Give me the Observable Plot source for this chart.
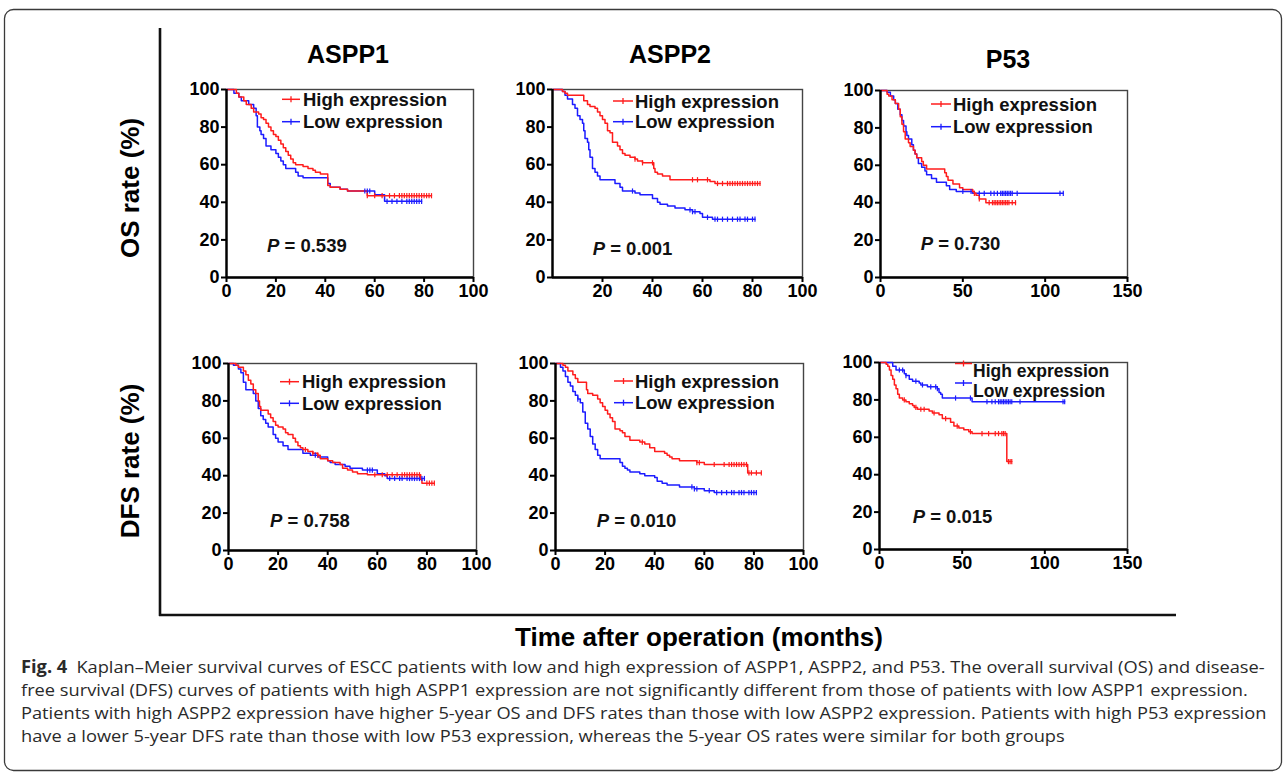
<!DOCTYPE html>
<html><head><meta charset="utf-8">
<script src="https://cdn.jsdelivr.net/npm/d3@7"></script>
<script src="https://cdn.jsdelivr.net/npm/@observablehq/plot@0.6"></script>
<style>
body{margin:0;background:#fff;}
#root{position:relative;width:1287px;height:773px;overflow:hidden;background:#fff;}
#root svg{position:absolute;}
</style></head><body><div id="root"></div>
<script>
// ---------- categories & labels ----------
const geneNames = ["ASPP1", "ASPP2", "P53"];
const rowLabels = ["OS rate (%)", "DFS rate (%)"];
const seriesNames = ["High expression", "Low expression"];
const pValues = ["0.539", "0.001", "0.730", "0.758", "0.010", "0.015"];
const yTicks = [0, 20, 40, 60, 80, 100];
const xTicks100 = [0, 20, 40, 60, 80, 100];
const xTicksAspp2Os = [20, 40, 60, 80, 100];
const xTicks150 = [0, 50, 100, 150];
const xAxisTitle = "Time after operation (months)";
const captionLines = [
  "Kaplan–Meier survival curves of ESCC patients with low and high expression of ASPP1, ASPP2, and P53. The overall survival (OS) and disease-",
  "free survival (DFS) curves of patients with high ASPP1 expression are not significantly different from those of patients with low ASPP1 expression.",
  "Patients with high ASPP2 expression have higher 5-year OS and DFS rates than those with low ASPP2 expression. Patients with high P53 expression",
  "have a lower 5-year DFS rate than those with low P53 expression, whereas the 5-year OS rates were similar for both groups"
];

// ---------- ASPP1 OS ----------
const aspp1OsHighTime = [0,4,5,7,8,10,11,13,14,15,16,17,18,19,20,21,22,23,24,25,26,27,28,31,33,35,36,38,41,42,46,49,57];
const aspp1OsHighRate = [100,98,96,94,92,90,88,87,85,84,82,80,78,76,75,73,71,69,67,65,63,61,60,59,58,57,56,55,49,48,47,46,43.5];
const aspp1OsHighCensor = [57,60,63,66,68,70,71,72,73,74,75,76,77,78,79,80,81,82,83];
const aspp1OsLowTime = [0,3,5,6,9,11,12,12.5,13.5,14,15,16,18,20,21,22,23,24,28,29,31,41,42,46,49,60,64];
const aspp1OsLowRate = [100,98,96,94,92,90,86,80,78,76,74,70,68,66,64,62,60,58,56,54,53,50,48,47,46,44,40.5];
const aspp1OsLowCensor = [56,57,58,65,67,69,71,73,74,75,76,77,78,79];
// ---------- ASPP2 OS ----------
const aspp2OsHighTime = [0,4,5,6,12.5,14,15,17,18,19,20,21,22,23,24,26,27,28,29,31,33,34,36,40.5,41,42,44,47,63,65];
const aspp2OsHighRate = [100,99,98,97,94,92,91,90,88,86,84,82,78,77,72,70,68,66,65,64,63,62,61,58,56,55,54,52,51,50];
const aspp2OsHighCensor = [33,36,40,56,58,62,66,68,70,71,72,73,74,75,76,77,78,79,80,81,82,83];
const aspp2OsLowTime = [0,4,5,6,8,9,10,11,12,12.5,13,14,14.5,15,16,17,18,19,25,27,28,33,35,40,42,43,46,49,53,56,59,60,64];
const aspp2OsLowRate = [100,99,97,95,92,90,86,84,82,78,74,72,68,64,58,56,54,52,50,48,46,45,44,42,40,39,38,37,36,35,34,32,31];
const aspp2OsLowCensor = [32,55,56,57,62,65,66,68,70,72,74,75,77,78,80,81];
// ---------- P53 OS ----------
const p53OsHighTime = [0,4,5,7,9,11,12,13,14,15,17,18,20,21,22,25,26,28,39,40,41,44,48,50,56,57,58,60,64];
const p53OsHighRate = [100,98,97,95,93,90,86,82,78,74,72,70,68,66,64,62,60,58,56,54,52,50,48,47,46,45,44,42,40];
const p53OsHighCensor = [57,60,66,68,69,70,71,72,73,74,75,76,77,78,80,82];
const p53OsLowTime = [0,4,6,8,9,10.5,12,13,14,15.5,16,17,19,20,21,22,23,25,27,28,31,34,40,42,46,56];
const p53OsLowRate = [100,99,97,95,93,90,87,84,81,78,76,74,71,68,66,64,61,59,57,55,53,51,49,47,46,45];
const p53OsLowCensor = [50,55,60,63,67,69,71,73,74,75,76,77,78,79,80,83,109,111];
// ---------- ASPP1 DFS ----------
const aspp1DfsHighTime = [0,3,4,6,7,8,9,10,11,12,12.5,13,16,17,18,19,20,22,23,24,26,27,28,29,30,32,34,36,37,40,42,45,46,48,50,52,56,77.5,78];
const aspp1DfsHighRate = [100,99,98,96,94,91,89,86,84,80,77,75,73,71,69,67,66,65,63,62,60,58,56,55,54,53,52,51,49,48,47,46,44,43,42,41,40.5,38,36];
const aspp1DfsHighCensor = [31,34,36,59,62,64,66,68,70,71,72,73,74,75,76,77,80,81,82,83];
const aspp1DfsLowTime = [0,2,4,5,6,7,10,11,12,13,14,15,16,18,19,20,22,24,30,33,36,40,41,43,47,49,54,60,63,64];
const aspp1DfsLowRate = [100,99,97,95,90,86,84,80,76,72,70,68,66,62,60,58,56,54,52,51,50,48,47,46,45,44,43,41,40,38.5];
const aspp1DfsLowCensor = [35,56,57,58,65,67,69,70,72,73,74,75,76,77,78,79];
// ---------- ASPP2 DFS ----------
const aspp2DfsHighTime = [0,3,4,5,7,8,9,12.5,13,15,17,18,19,20,21,22,23,24,26,27,28,30,34,36,38,40,44,45,46,47,50,57,60,77.5];
const aspp2DfsHighRate = [100,99,98,96,94,92,90,86,84,83,81,79,77,75,73,71,69,65,64,63,61,59,58,57,55,53,52,51,50,49,48,47,46,41.5];
const aspp2DfsHighCensor = [35,57,58,64,68,70,71,72,73,74,75,76,77,78,79,81,83];
const aspp2DfsLowTime = [0,2,3,4,5,6,7,8,9,10,11,12,13,14,15,16,17,18,26,27,28,29,30,34,36,40,41,43,45,50,56,60,64];
const aspp2DfsLowRate = [100,98,96,93,90,88,85,83,81,79,74,68,65,61,57,54,51,49,47,45,44,43,42,41,40,39,37,36,35,34,33,32,31];
const aspp2DfsLowCensor = [9,55,56,57,62,65,67,69,71,72,74,75,76,78,79,80,81];
// ---------- P53 DFS ----------
const p53DfsHighTime = [0,4,5,6,7,8,9,10,11,12,14,16,18,20,21,23,30,32,36,38,43,45,48,51,54,56,77];
const p53DfsHighRate = [100,99,98,96,93,91,88,86,83,81,80,79,78,77,76,75,74,73,72,70,68,66,65,64,63,62,47];
const p53DfsHighCensor = [15,22,25,27,33,40,47,55,62,66,70,72,74,75,76,78,79,80];
const p53DfsLowTime = [0,8,10,15,16,18,20,24,25,29,35,36,37,38,56];
const p53DfsLowRate = [100,98,96,94,93,91,90,89,88,87,86,84,83,81,79];
const p53DfsLowCensor = [12,14,16,22,26,31,34,35,46,55,65,68,70,72,73,74,75,76,77,78,79,80,85,111,112];

// ---------- helpers ----------
const RED = "#ff1c1c", BLUE = "#1c1cff";
const FONT = "'Liberation Sans', Arial, Helvetica, sans-serif";
function km(time, rate, censor) {
  const end = Math.max(time[time.length - 1], ...censor);
  const pts = time.map((t, i) => ({t, s: rate[i]}));
  pts.push({t: end, s: rate[rate.length - 1]});
  const at = (t) => { let v = rate[0]; for (let i = 0; i < time.length; i++) if (time[i] <= t) v = rate[i]; return v; };
  return {pts, cens: censor.map((t) => ({t, s: at(t)}))};
}
const tickSymbol = {draw(ctx, size) { const h = Math.sqrt(size / Math.PI); ctx.moveTo(0, -h); ctx.lineTo(0, h); }};

// layout of each panel: frame box [left, right, top, bottom]
const panels = [
  {box:[226,473,89,277], xMax:100, xTicks:xTicks100, high:km(aspp1OsHighTime,aspp1OsHighRate,aspp1OsHighCensor), low:km(aspp1OsLowTime,aspp1OsLowRate,aspp1OsLowCensor),
   p:pValues[0], pPos:[267,251.5], leg:{x1:282,x2:300,tx:303,fs:18.5,hi:[99.3,99.3],lo:[121.7,121.7]}},
  {box:[552,802,89,277], xMax:100, xTicks:xTicksAspp2Os, high:km(aspp2OsHighTime,aspp2OsHighRate,aspp2OsHighCensor), low:km(aspp2OsLowTime,aspp2OsLowRate,aspp2OsLowCensor),
   p:pValues[1], pPos:[592.7,254.5], leg:{x1:613,x2:633,tx:635,fs:18.5,hi:[101,101],lo:[121.7,121.7]}},
  {box:[880,1127,90,277], xMax:150, xTicks:xTicks150, high:km(p53OsHighTime,p53OsHighRate,p53OsHighCensor), low:km(p53OsLowTime,p53OsLowRate,p53OsLowCensor),
   p:pValues[2], pPos:[920.7,250], leg:{x1:931,x2:951,tx:953,fs:18.5,hi:[104,104],lo:[126.7,126.7]}},
  {box:[228,476,363,550], xMax:100, xTicks:xTicks100, high:km(aspp1DfsHighTime,aspp1DfsHighRate,aspp1DfsHighCensor), low:km(aspp1DfsLowTime,aspp1DfsLowRate,aspp1DfsLowCensor),
   p:pValues[3], pPos:[270,526.5], leg:{x1:280,x2:299,tx:302,fs:18.5,hi:[381.7,381.7],lo:[403.3,403.3]}},
  {box:[555,803,363,550], xMax:100, xTicks:xTicks100, high:km(aspp2DfsHighTime,aspp2DfsHighRate,aspp2DfsHighCensor), low:km(aspp2DfsLowTime,aspp2DfsLowRate,aspp2DfsLowCensor),
   p:pValues[4], pPos:[596.7,526.5], leg:{x1:614,x2:633,tx:635,fs:18.5,hi:[381,381],lo:[402.7,402.7]}},
  {box:[879,1127,362,549], xMax:150, xTicks:xTicks150, high:km(p53DfsHighTime,p53DfsHighRate,p53DfsHighCensor), low:km(p53DfsLowTime,p53DfsLowRate,p53DfsLowCensor),
   p:pValues[5], pPos:[912.7,522.7], leg:{x1:955,x2:972,tx:973,fs:17.5,hi:[363.5,370.5],lo:[383,390.5]}}
];

const root = document.getElementById("root");
const ML = 60, MR = 30, MT = 12, MB = 34;

for (const P of panels) {
  const [l, r, t, b] = P.box;
  const chart = Plot.plot({
    width: r - l + ML + MR, height: b - t + MT + MB,
    marginLeft: ML, marginRight: MR, marginTop: MT, marginBottom: MB,
    x: {domain: [0, P.xMax]}, y: {domain: [0, 100]},
    style: {fontFamily: FONT, fontSize: "18px", fontWeight: "bold", color: "black", background: "transparent", overflow: "visible"},
    marks: [
      Plot.frame({stroke: "#444", strokeWidth: 1.4}),
      Plot.line(P.low.pts, {x: "t", y: "s", curve: "step-after", stroke: BLUE, strokeWidth: 1.5}),
      Plot.line(P.high.pts, {x: "t", y: "s", curve: "step-after", stroke: RED, strokeWidth: 1.5}),
      Plot.dot(P.low.cens, {x: "t", y: "s", symbol: tickSymbol, r: 2.6, stroke: BLUE, fill: "none", strokeWidth: 1.2}),
      Plot.dot(P.high.cens, {x: "t", y: "s", symbol: tickSymbol, r: 2.6, stroke: RED, fill: "none", strokeWidth: 1.2}),
      Plot.ruleX([0], {stroke: "black", strokeWidth: 2.4}),
      Plot.ruleY([0], {stroke: "black", strokeWidth: 2.4}),
      Plot.axisX({ticks: P.xTicks, tickSize: 5, tickPadding: 2, strokeWidth: 2, label: null, tickFormat: (d) => String(d)}),
      Plot.axisY({ticks: yTicks, tickSize: 5, tickPadding: 2, strokeWidth: 2, label: null, tickFormat: (d) => String(d)})
    ]
  });
  chart.style.left = (l - ML) + "px";
  chart.style.top = (t - MT) + "px";
  root.appendChild(chart);
}

// ---------- overlay: frame, titles, legends, p-values, caption ----------
const svg = d3.select(root).append("svg")
  .attr("width", 1287).attr("height", 773)
  .style("left", "0px").style("top", "0px").style("pointer-events", "none");

svg.append("rect").attr("x", 4.5).attr("y", 9.5).attr("width", 1277).attr("height", 761).attr("rx", 9)
  .attr("fill", "none").attr("stroke", "#3a3a3a").attr("stroke-width", 1.3);
svg.append("line").attr("x1", 160).attr("x2", 160).attr("y1", 28).attr("y2", 616).attr("stroke", "#111").attr("stroke-width", 2.6);
svg.append("line").attr("x1", 159).attr("x2", 1176).attr("y1", 615).attr("y2", 615).attr("stroke", "#111").attr("stroke-width", 2.6);

const titlePos = [[348, 63], [670, 62.7], [1008, 68.3]];
geneNames.forEach((g, i) => {
  svg.append("text").attr("x", titlePos[i][0]).attr("y", titlePos[i][1]).attr("text-anchor", "middle")
    .attr("font-family", FONT).attr("font-weight", "bold").attr("font-size", 25).text(g);
});
const rowPos = [[130, 188], [130, 461]];
rowLabels.forEach((lab, i) => {
  svg.append("text").attr("transform", `translate(${rowPos[i][0] + 9},${rowPos[i][1]}) rotate(-90)`)
    .attr("text-anchor", "middle").attr("font-family", FONT).attr("font-weight", "bold").attr("font-size", 26).text(lab);
});
svg.append("text").attr("x", 699).attr("y", 646).attr("text-anchor", "middle")
  .attr("font-family", FONT).attr("font-weight", "bold").attr("font-size", 26).text(xAxisTitle);

for (const P of panels) {
  const L = P.leg;
  [[RED, L.hi, seriesNames[0]], [BLUE, L.lo, seriesNames[1]]].forEach(([c, ys, name]) => {
    svg.append("line").attr("x1", L.x1).attr("x2", L.x2).attr("y1", ys[0]).attr("y2", ys[0]).attr("stroke", c).attr("stroke-width", 1.5);
    svg.append("line").attr("x1", (L.x1 + L.x2) / 2).attr("x2", (L.x1 + L.x2) / 2).attr("y1", ys[0] - 3).attr("y2", ys[0] + 3).attr("stroke", c).attr("stroke-width", 1.3);
    svg.append("text").attr("x", L.tx).attr("y", ys[1] + 0.36 * L.fs).attr("font-family", FONT).attr("font-weight", "bold")
      .attr("font-size", L.fs).attr("fill", "#111").text(name);
  });
  const pt = svg.append("text").attr("x", P.pPos[0]).attr("y", P.pPos[1]).attr("font-family", FONT)
    .attr("font-weight", "bold").attr("font-size", 18.5).attr("fill", "#111");
  pt.append("tspan").attr("font-style", "italic").text("P");
  pt.append("tspan").text(" = " + P.p);
}

// caption
const capG = svg.append("g");
const capBase = [673, 696, 719, 742];
const capTexts = captionLines.map((line, i) => {
  const t = capG.append("text").attr("x", 0).attr("y", capBase[i]).attr("font-family", "'Open Sans', 'Noto Sans', sans-serif")
    .attr("font-size", 17).attr("fill", "#2a2a2a");
  if (i === 0) {
    t.append("tspan").attr("font-weight", "bold").text("Fig. 4");
    t.append("tspan").text("\u2002" + line);
  } else t.text(line);
  return t;
});
const w0 = capTexts[0].node().getComputedTextLength();
const sx = (1266 - 21) / w0;
capG.attr("transform", `translate(21,0) scale(${sx},1)`);
</script></body></html>
